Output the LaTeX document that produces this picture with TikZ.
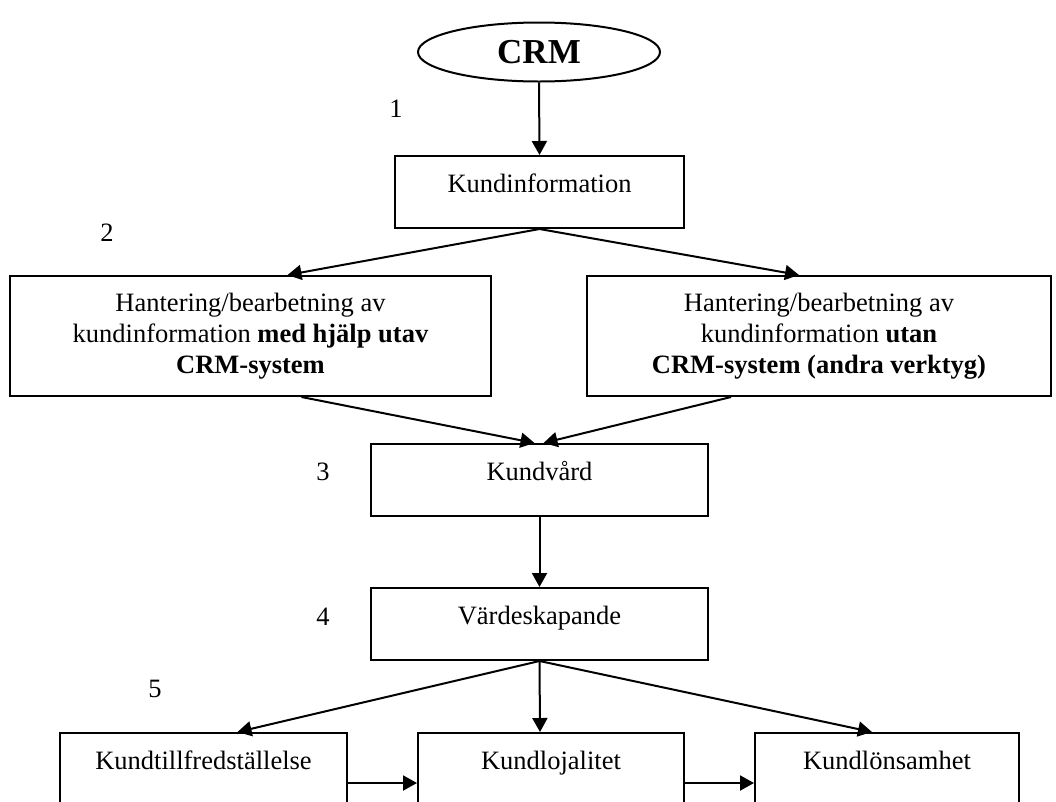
\documentclass[tikz,border=0pt]{standalone}
\usepackage{fontspec}
\setmainfont{Liberation Serif}
\usetikzlibrary{arrows.meta, calc, shapes.geometric}

\begin{document}
\begin{tikzpicture}[x=1pt, y=-1pt, line width=2pt, >={Triangle[length=14pt, width=15pt]},
    font=\fontsize{26.5}{31}\selectfont,
    box/.style={draw, rectangle, anchor=north west, inner xsep=0pt, align=center},
    onerow/.style={box, text height=18pt, text depth=18pt, inner ysep=18pt},
    lowrow/.style={box, text height=18pt, text depth=46pt, inner ysep=18pt},
    num/.style={inner sep=0pt}]
    \clip (0,0) rectangle (1056,801);
    \node [draw, ellipse, minimum width=242pt, minimum height=59pt, inner sep=0pt, font=\fontsize{35}{35}\selectfont\bfseries] (crm) at (539,52) {CRM};
    \node [onerow, minimum width=289pt] (info) at (394,155) {Kundinformation};
    \node [box, minimum width=481pt, minimum height=120pt] (med) at (9,275) {Hantering/bearbetning av\\kundinformation \textbf{med hjälp utav}\\\textbf{CRM-system}};
    \node [box, minimum width=464pt, minimum height=120pt] (utan) at (586,275) {Hantering/bearbetning av\\kundinformation \textbf{utan}\\\textbf{CRM-system (andra verktyg)}};
    \node [onerow, minimum width=337pt] (vard) at (370,443) {Kundvård};
    \node [onerow, minimum width=337pt] (skap) at (370,587) {Värdeskapande};
    \node [lowrow, minimum width=287pt] (nojd) at (59,732) {Kundtillfredställelse};
    \node [lowrow, minimum width=266pt] (lojal) at (417,732) {Kundlojalitet};
    \node [lowrow, minimum width=264pt] (lons) at (754,732) {Kundlönsamhet};
    % steg
    \node [num] (n1) at (396,109) {1};
    \node [num] (n2) at (107,233) {2};
    \node [num] (n3) at (323,472) {3};
    \node [num] (n4) at (323,617) {4};
    \node [num] (n5) at (155,689) {5};
    % pilar
    \draw [->] (crm.south) -- (info.north);
    \draw [->] (info.south) -- ([xshift=37pt]med.north);
    \draw [->] (info.south) -- ([xshift=-20pt]utan.north);
    \draw [->] ([xshift=51pt]med.south) -- ([xshift=-5pt]vard.north);
    \draw [->] ([xshift=-88pt]utan.south) -- ([xshift=4pt]vard.north);
    \draw [->] (vard.south) -- (skap.north);
    \draw [->] (skap.south) -- ([xshift=34pt]nojd.north);
    \draw [->] (skap.south) -- ([xshift=-11pt]lojal.north);
    \draw [->] (skap.south) -- ([xshift=-15pt]lons.north);
    \draw [->] (nojd.east) -- (lojal.west);
    \draw [->] (lojal.east) -- (lons.west);
\end{tikzpicture}
\end{document}
